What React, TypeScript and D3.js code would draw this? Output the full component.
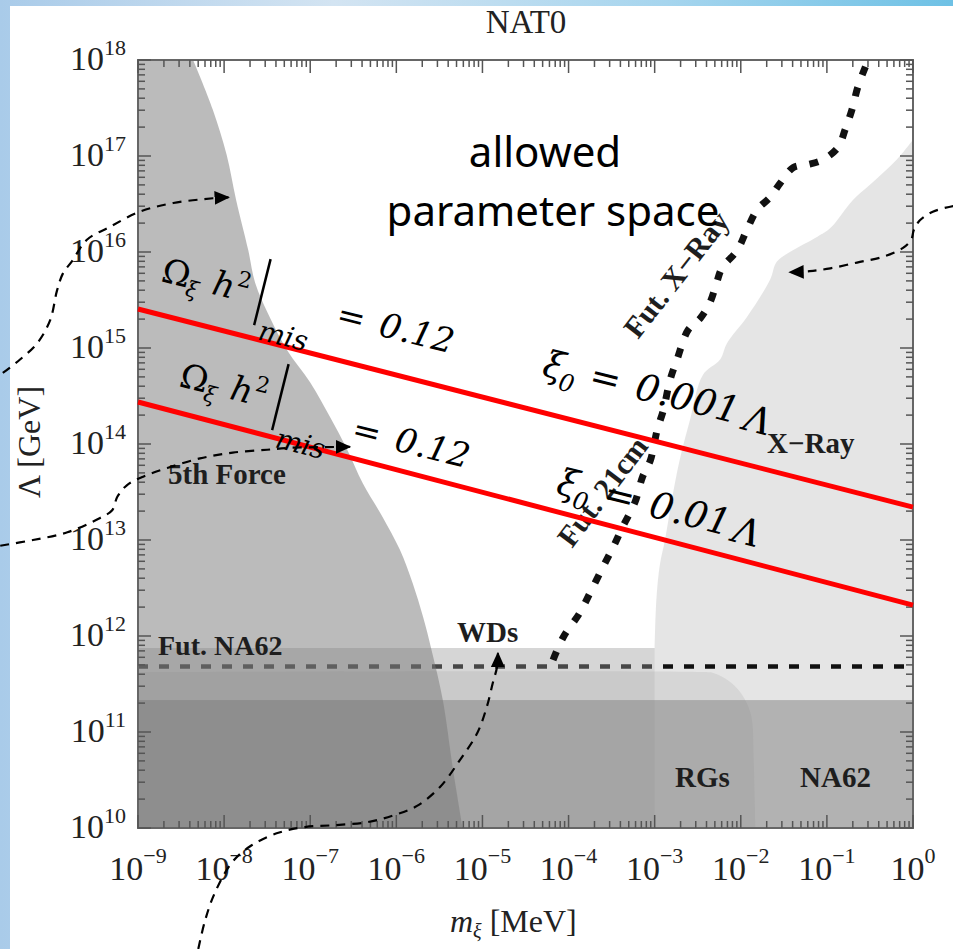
import React from "react";
import * as d3 from "d3";

// axis ranges: m_xi [MeV], Lambda [GeV]
const xDomain = [1e-9, 1];
const yDomain = [1e10, 1e18];
const xTickExps = [-9, -8, -7, -6, -5, -4, -3, -2, -1, 0];
const yTickExps = [10, 11, 12, 13, 14, 15, 16, 17, 18];

// exclusion boundaries, log10 values
const fifthForceLogM = [-8.36, -8.13, -7.97, -7.86, -7.72, -7.64, -7.47, -7.27, -7.0, -6.77, -6.57, -6.39, -6.16, -5.96, -5.81, -5.69, -5.59, -5.46, -5.34, -5.23];
const fifthForceLogL = [18, 17.48, 17.01, 16.54, 16.02, 15.68, 15.32, 14.98, 14.64, 14.28, 13.94, 13.59, 13.24, 12.9, 12.55, 12.2, 11.85, 11.33, 10.6, 10.0];

const xrayLogM = [0, -0.19, -0.5, -0.7, -0.96, -1.11, -1.39, -1.58, -1.66, -1.93, -2.16, -2.24, -2.44, -2.59, -2.71, -2.8, -2.88, -2.94, -2.98, -3.0];
const xrayLogL = [17.17, 16.96, 16.7, 16.54, 16.25, 16.16, 16.02, 15.9, 15.71, 15.32, 15.05, 14.88, 14.72, 14.25, 13.83, 13.42, 13.0, 12.74, 12.38, 11.88];

const rgLogM = [-9, -2.47, -2.32, -2.15, -2.01, -1.92, -1.87, -1.85, -1.83];
const rgLogL = [11.625, 11.625, 11.615, 11.54, 11.42, 11.28, 11.125, 10.71, 10.0];

const wdMaxM = 1e-3;
const wdMaxL = 7.5e11;
const na62MaxL = 2.15e11;
const futNa62L = 4.8e11;

const futXrayLogM = [-4.18, -4.06, -3.87, -3.75, -3.6, -3.48, -3.37, -3.23, -3.14, -3.05, -2.97, -2.9, -2.82, -2.74, -2.61, -2.47, -2.36, -2.28, -2.22, -2.04, -1.93, -1.81, -1.66, -1.54, -1.39, -1.23, -1.05, -0.87, -0.79, -0.71, -0.64, -0.53];
const futXrayLogL = [11.75, 11.99, 12.24, 12.45, 12.72, 12.93, 13.14, 13.39, 13.66, 13.83, 14.15, 14.35, 14.67, 14.88, 15.19, 15.31, 15.47, 15.68, 15.83, 16.02, 16.23, 16.44, 16.57, 16.72, 16.88, 16.91, 16.96, 17.09, 17.27, 17.48, 17.72, 17.98];

// Omega h^2 = 0.12 lines
const relicM = [1e-9, 1];
const relicL001 = [2.55e15, 2.2e13];
const relicL01 = [2.74e14, 2.1e12];

// annotation arrows (log10 m, log10 Lambda)
const arrowFifthTop = [[-10.57, 14.74], [-10.37, 14.88], [-10.17, 15.05], [-10.02, 15.29], [-9.94, 15.6], [-9.87, 15.78], [-9.77, 15.9], [-9.59, 16.13], [-9.33, 16.26], [-8.98, 16.42], [-8.59, 16.51], [-8.13, 16.56], [-7.95, 16.57]];
const arrowFifthLow = [[-10.6, 12.94], [-10.22, 13.0], [-9.82, 13.08], [-9.44, 13.23], [-9.3, 13.31], [-9.24, 13.45], [-9.13, 13.57], [-8.94, 13.66], [-8.66, 13.75], [-8.28, 13.85], [-7.9, 13.91], [-7.5, 13.94], [-7.24, 13.96], [-6.54, 13.97]];
const arrowWD = [[-8.3, 8.74], [-8.22, 9.04], [-8.11, 9.32], [-7.91, 9.64], [-7.68, 9.82], [-7.37, 9.95], [-7.06, 10.01], [-6.71, 10.03], [-6.34, 10.06], [-6.04, 10.13], [-5.76, 10.23], [-5.49, 10.43], [-5.26, 10.71], [-5.06, 10.99], [-4.95, 11.26], [-4.88, 11.51], [-4.83, 11.68], [-4.82, 11.82]];
const arrowXray = [[0.47, 16.48], [0.23, 16.42], [0.08, 16.33], [0.01, 16.23], [-0.02, 16.13], [-0.12, 16.04], [-0.35, 15.95], [-0.65, 15.89], [-0.96, 15.83], [-1.2, 15.8], [-1.43, 15.79]];

const W = 953;
const H = 949;
const margin = { left: 138, top: 60, right: 40, bottom: 121 };

const serif = "Liberation Serif, Times New Roman, serif";
const mathFont = "DejaVu Serif, serif";

function OmegaLabel({ tx, ty, misY, eqY }: { tx: number; ty: number; misY: number; eqY: number }) {
  return (
    <g transform={`translate(${tx},${ty}) rotate(14)`} fontFamily={mathFont} fill="#000">
      <text x={0} y={0} fontSize={34}>Ω</text>
      <text x={27} y={8} fontSize={22} fontStyle="italic">ξ</text>
      <text x={52} y={0} fontSize={34} fontStyle="italic">h</text>
      <text x={75} y={-14} fontSize={22}>2</text>
      <line x1={102} y1={-48} x2={102} y2={20} stroke="#000" strokeWidth={2.5} />
      <text x={108} y={misY} fontSize={28} fontStyle="italic">mis</text>
      <text x={180} y={eqY} fontSize={34}>=</text>
      <text x={224} y={eqY} fontSize={34} fontStyle="italic">0.12</text>
    </g>
  );
}

function XiLabel({ tx, ty, value, lambdaX }: { tx: number; ty: number; value: string; lambdaX: number }) {
  return (
    <g transform={`translate(${tx},${ty}) rotate(14)`} fontFamily={mathFont} fill="#000">
      <text x={0} y={0} fontSize={37} fontStyle="italic">ξ</text>
      <text x={19} y={10} fontSize={24} fontStyle="italic">0</text>
      <text x={48} y={0} fontSize={37}>=</text>
      <text x={95} y={0} fontSize={37} fontStyle="italic">{value}</text>
      <text x={lambdaX} y={4} fontSize={37} fontStyle="italic">Λ</text>
    </g>
  );
}

export default function App() {
  const x = d3.scaleLog().domain(xDomain).range([margin.left, W - margin.right]);
  const y = d3.scaleLog().domain(yDomain).range([H - margin.bottom, margin.top]);
  const pt = (lm: number, ll: number): [number, number] => [x(Math.pow(10, lm)), y(Math.pow(10, ll))];
  const x0 = x(xDomain[0]);
  const x1 = x(xDomain[1]);
  const yb = y(yDomain[0]);
  const yt = y(yDomain[1]);

  const smooth = d3.line().curve(d3.curveCatmullRom.alpha(0.5));
  const straight = d3.line();

  // 5th force region
  const ffPts = fifthForceLogM.map((m, i) => pt(m, fifthForceLogL[i]));
  const ffPath = `M${x0},${yt}L` + (smooth(ffPts) as string).slice(1) + `L${x0},${yb}Z`;

  // X-ray region
  const xrPts = xrayLogM.map((m, i) => pt(m, xrayLogL[i]));
  const xrPath = (smooth(xrPts) as string) + `L${x(wdMaxM)},${yb}L${x1},${yb}Z`;

  // red giants
  const rgPts = rgLogM.map((m, i) => pt(m, rgLogL[i]));
  const rgPath = (smooth(rgPts) as string) + `L${x0},${yb}Z`;

  const futPts = futXrayLogM.map((m, i) => pt(m, futXrayLogL[i]));

  const relic1 = straight(relicM.map((m, i) => [x(m), y(relicL001[i])]));
  const relic2 = straight(relicM.map((m, i) => [x(m), y(relicL01[i])]));

  const arrows = [arrowFifthTop, arrowFifthLow, arrowWD, arrowXray].map((a) =>
    smooth(a.map((p) => pt(p[0], p[1])))
  );

  // tick values
  const xTicks: { v: number; major: boolean }[] = [];
  for (let e = -9; e < 0; e++) for (let k = 1; k < 10; k++) xTicks.push({ v: k * Math.pow(10, e), major: k === 1 });
  xTicks.push({ v: 1, major: true });
  const yTicks: { v: number; major: boolean }[] = [];
  for (let e = 10; e < 18; e++) for (let k = 1; k < 10; k++) yTicks.push({ v: k * Math.pow(10, e), major: k === 1 });
  yTicks.push({ v: 1e18, major: true });

  const tickCol = "#555";
  const regionLabel = { fontFamily: serif, fontWeight: 700, fontSize: 29, fill: "#1e1e1e" } as const;

  return (
    <svg width={W} height={H} style={{ position: "absolute", left: 0, top: 0 }} xmlns="http://www.w3.org/2000/svg">
      <defs>
        <linearGradient id="slide" x1="0" y1="0" x2="1" y2="0">
          <stop offset="0" stopColor="#a9cbe9" />
          <stop offset="0.35" stopColor="#d3e4f2" />
          <stop offset="0.7" stopColor="#a6d5ee" />
          <stop offset="1" stopColor="#6ec1e5" />
        </linearGradient>
        <marker id="ah" viewBox="0 0 10 10" refX="9" refY="5" markerWidth="7" markerHeight="7" orient="auto" markerUnits="strokeWidth">
          <path d="M0,0.5 L10,5 L0,9.5 z" fill="#000" />
        </marker>
        <clipPath id="plot">
          <rect x={x0} y={yt} width={x1 - x0} height={yb - yt} />
        </clipPath>
      </defs>

      <rect x={0} y={0} width={W} height={H} fill="url(#slide)" />
      <rect x={10} y={6} width={W - 10} height={H - 6} fill="#fff" />

      <text x={526} y={33} textAnchor="middle" fontFamily={serif} fontSize={33} fill="#222">NAT0</text>

      <g clipPath="url(#plot)">
        <path d={xrPath} fill="#cccccc" fillOpacity={0.5} />
        <line x1={x0} x2={x1} y1={y(futNa62L)} y2={y(futNa62L)} stroke="#111" strokeWidth={4.5} strokeDasharray="10 11" />
        <rect x={x0} y={y(wdMaxL)} width={x(wdMaxM) - x0} height={yb - y(wdMaxL)} fill="#999999" fillOpacity={0.4} />
        <path d={rgPath} fill="#999999" fillOpacity={0.2} />
        <rect x={x0} y={y(na62MaxL)} width={x1 - x0} height={yb - y(na62MaxL)} fill="#808080" fillOpacity={0.5} />
        <path d={ffPath} fill="#777777" fillOpacity={0.5} />
        <path d={smooth(futPts) as string} fill="none" stroke="#111" strokeWidth={7} strokeDasharray="9 13" />
      </g>

      {/* frame and ticks */}
      <rect x={x0} y={yt} width={x1 - x0} height={yb - yt} fill="none" stroke="#666" strokeWidth={2} />
      {xTicks.map((t, i) => {
        const len = t.major ? 13 : 7;
        const xx = x(t.v);
        return (
          <g key={"xt" + i} stroke={tickCol} strokeWidth={1.5}>
            <line x1={xx} x2={xx} y1={yb} y2={yb - len} />
            <line x1={xx} x2={xx} y1={yt} y2={yt + len} />
          </g>
        );
      })}
      {yTicks.map((t, i) => {
        const len = t.major ? 13 : 7;
        const yy = y(t.v);
        return (
          <g key={"yt" + i} stroke={tickCol} strokeWidth={1.5}>
            <line x1={x0} x2={x0 + len} y1={yy} y2={yy} />
            <line x1={x1} x2={x1 - len} y1={yy} y2={yy} />
          </g>
        );
      })}
      {xTickExps.map((e) => (
        <text key={"xl" + e} x={x(Math.pow(10, e))} y={yb + 52} textAnchor="middle" fontFamily={serif} fontSize={34} fill="#222">
          10<tspan dy={-17} fontSize={22}>{e < 0 ? "\u2212" + -e : String(e)}</tspan>
        </text>
      ))}
      {yTickExps.map((e) => (
        <text key={"yl" + e} x={126} y={y(Math.pow(10, e)) + 10} textAnchor="end" fontFamily={serif} fontSize={34} fill="#222">
          10<tspan dy={-15} fontSize={22}>{String(e)}</tspan>
        </text>
      ))}

      <text transform="translate(40,442) rotate(-90)" textAnchor="middle" fontFamily={serif} fontSize={32} fill="#222">Λ [GeV]</text>
      <text x={450} y={932} fontFamily={serif} fontSize={32} fill="#222">
        <tspan fontStyle="italic">m</tspan>
        <tspan fontStyle="italic" fontSize={20} dy={6}>ξ</tspan>
        <tspan dy={-6}> [MeV]</tspan>
      </text>

      {/* region labels */}
      <text x={168} y={484} {...regionLabel}>5th Force</text>
      <text x={158} y={655} {...regionLabel} fontSize={28}>Fut. NA62</text>
      <text x={457} y={642} {...regionLabel}>WDs</text>
      <text x={675} y={787} {...regionLabel}>RGs</text>
      <text x={800} y={787} {...regionLabel}>NA62</text>
      <text x={767} y={453} {...regionLabel}>X−Ray</text>
      <text transform="translate(638,340) rotate(-52)" {...regionLabel} fontSize={30}>Fut. X−Ray</text>
      <text transform="translate(572,549) rotate(-53)" {...regionLabel} fontSize={30}>Fut. 21cm</text>

      {/* relic density lines */}
      <path d={relic1 as string} stroke="#ff0000" strokeWidth={5} fill="none" />
      <path d={relic2 as string} stroke="#ff0000" strokeWidth={5} fill="none" />

      {/* annotations */}
      <text x={545} y={167} textAnchor="middle" fontFamily="Noto Sans, sans-serif" fontSize={42} fill="#000">allowed</text>
      <text x={553} y={226} textAnchor="middle" fontFamily="Noto Sans, sans-serif" fontSize={42} fill="#000">parameter space</text>

      <OmegaLabel tx={160} ty={281} misY={33} eqY={0} />
      <OmegaLabel tx={178} ty={386} misY={36} eqY={10} />
      <XiLabel tx={541} ty={375} value="0.001" lambdaX={208} />
      <XiLabel tx={555} ty={493} value="0.01" lambdaX={182} />

      {arrows.map((d, i) => (
        <path key={"ar" + i} d={d as string} fill="none" stroke="#000" strokeWidth={2.2} strokeDasharray="9 7" markerEnd="url(#ah)" />
      ))}
    </svg>
  );
}
